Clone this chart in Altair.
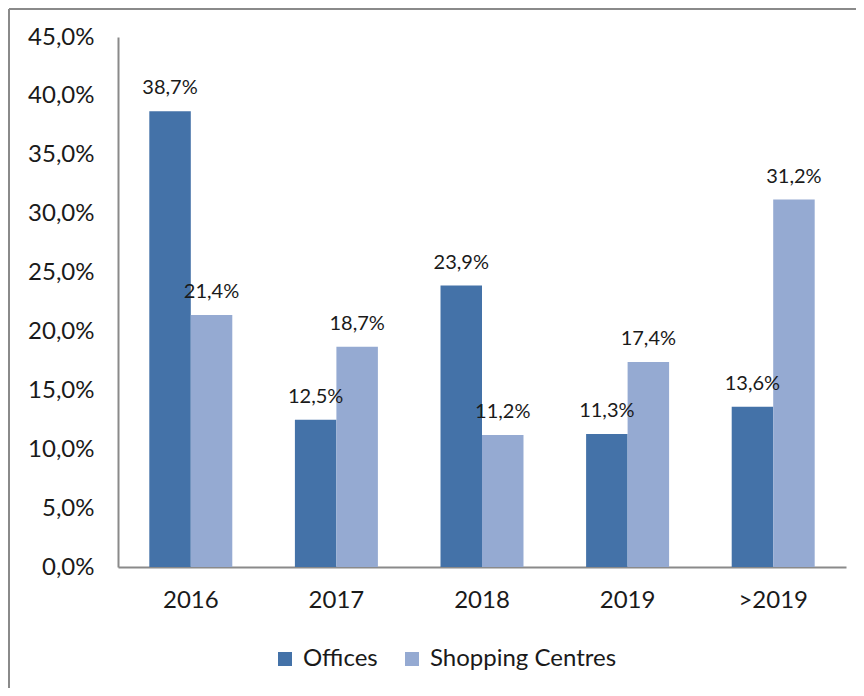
import altair as alt
import pandas as pd

years = ["2016", "2017", "2018", "2019", ">2019"]
series_names = ["Offices", "Shopping Centres"]
offices = [38.7, 12.5, 23.9, 11.3, 13.6]
shopping = [21.4, 18.7, 11.2, 17.4, 31.2]
colors = ["#4472A8", "#95AAD2"]
y_ticks = [0, 5, 10, 15, 20, 25, 30, 35, 40, 45]

rows = []
for i, yr in enumerate(years):
    rows.append({"year": yr, "series": series_names[0], "value": offices[i]})
    rows.append({"year": yr, "series": series_names[1], "value": shopping[i]})
df = pd.DataFrame(rows)

FONT = "Lato"
TXT = "#1a1a1a"
GRAY = "#8a8a8a"

x_enc = alt.X(
    "year:N", sort=years, title=None,
    scale=alt.Scale(paddingInner=0.43, paddingOuter=0.215),
    axis=alt.Axis(labelAngle=0, ticks=False, labelPadding=21, labelFontSize=24,
                  labelFont=FONT, labelColor=TXT, domainColor=GRAY, domainWidth=2),
)
xo_enc = alt.XOffset("series:N", sort=series_names,
                     scale=alt.Scale(domain=series_names, paddingInner=0, paddingOuter=0))
y_enc = alt.Y(
    "value:Q", title=None,
    scale=alt.Scale(domain=[0, 45], nice=False, zero=True),
    axis=alt.Axis(values=y_ticks, grid=False, ticks=False, labelPadding=24,
                  labelFontSize=24, labelFont=FONT, labelColor=TXT,
                  domainColor=GRAY, domainWidth=2,
                  labelExpr="replace(format(datum.value, '.1f'), '.', ',') + '%'"),
)

base = alt.Chart(df)

bars = base.mark_bar().encode(
    x=x_enc, xOffset=xo_enc, y=y_enc,
    color=alt.Color("series:N", sort=series_names,
                    scale=alt.Scale(domain=series_names, range=colors),
                    legend=alt.Legend(title=None, orient="none", legendX=155, legendY=610,
                                      direction="horizontal", symbolType="square",
                                      symbolSize=196, symbolStrokeWidth=0,
                                      labelFontSize=24, labelFont=FONT, labelColor=TXT,
                                      labelLimit=400, columnPadding=22, labelOffset=6)),
)

labels = base.transform_calculate(
    lab="replace(format(datum.value, '.1f'), '.', ',') + '%'"
).mark_text(baseline="alphabetic", dy=-17, fontSize=20, font=FONT, color=TXT).encode(
    x=alt.X("year:N", sort=years), xOffset=xo_enc, y=alt.Y("value:Q"), text="lab:N"
)

one = alt.Chart(pd.DataFrame({"a": [0]}))
frame_top = one.mark_rule(color=GRAY, strokeWidth=2).encode(
    x=alt.value(-109), x2=alt.value(800), y=alt.value(-28)
)
frame_left = one.mark_rule(color=GRAY, strokeWidth=2).encode(
    x=alt.value(-109), y=alt.value(-28), y2=alt.value(700)
)

chart = alt.layer(bars, labels, frame_top, frame_left).properties(
    width=728, height=530,
    autosize="none",
    padding={"left": 110, "top": 29, "right": 10, "bottom": 121},
).configure_view(stroke=None)

chart.save("out.html", embed_options={"renderer": "svg", "actions": False})
